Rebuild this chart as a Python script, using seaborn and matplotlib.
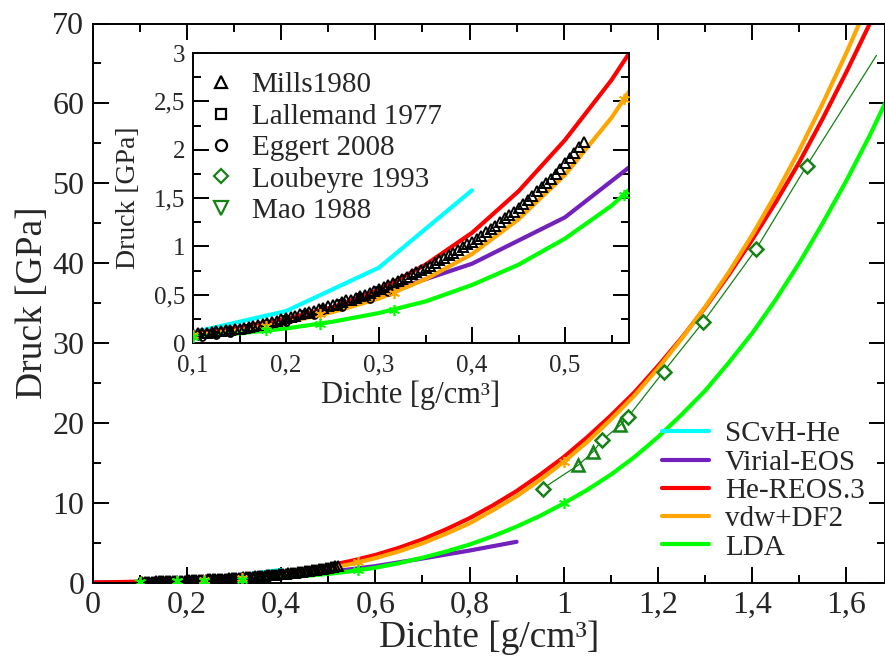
import matplotlib
matplotlib.use("Agg")
import matplotlib.pyplot as plt
import seaborn as sns
import numpy as np
from matplotlib.ticker import MultipleLocator, FuncFormatter
from matplotlib.lines import Line2D

# ---------------- data (density g/cm3, pressure GPa) ----------------
scvh_rho = [0.1, 0.2, 0.3, 0.4]
scvh_p = [0.11, 0.33, 0.78, 1.58]

virial_rho = [0.0, 0.1, 0.2, 0.3, 0.4, 0.5, 0.6, 0.7, 0.8, 0.9]
virial_p = [0.0, 0.08, 0.24, 0.50, 0.82, 1.30, 2.05, 3.0, 4.0, 5.1]

reos_rho = [0.0, 0.1, 0.15, 0.2, 0.25, 0.3, 0.35, 0.4, 0.45, 0.5, 0.55, 0.6, 0.65, 0.7,
            0.75, 0.8, 0.85, 0.9, 0.95, 1.0, 1.05, 1.1, 1.15, 1.2, 1.25, 1.3, 1.35, 1.4,
            1.45, 1.5, 1.55, 1.6, 1.65, 1.7]
reos_p = [0.0, 0.10, 0.16, 0.25, 0.37, 0.55, 0.81, 1.14, 1.57, 2.10, 2.72, 3.45, 4.34, 5.4,
          6.65, 8.05, 9.67, 11.45, 13.5, 15.7, 18.2, 20.9, 23.8, 27.1, 30.6, 34.4, 38.5, 42.9,
          47.6, 52.6, 58.1, 63.9, 70.0, 76.5]

vdw_rho = [0.1, 0.15, 0.2, 0.25, 0.3, 0.35, 0.4, 0.45, 0.5, 0.55, 0.6, 0.65, 0.7, 0.75,
           0.8, 0.85, 0.9, 0.95, 1.0, 1.05, 1.1, 1.15, 1.2, 1.25, 1.3, 1.35, 1.4, 1.45,
           1.5, 1.55, 1.6, 1.65, 1.7]
vdw_p = [0.08, 0.13, 0.21, 0.32, 0.46, 0.66, 0.92, 1.28, 1.74, 2.33, 3.05, 3.89, 4.9, 6.1,
         7.4, 9.06, 10.8, 12.85, 15.1, 17.6, 20.4, 23.4, 26.8, 30.5, 34.5, 38.8, 43.5, 48.6,
         54.1, 60.0, 66.3, 73.0, 80.0]

lda_rho = [0.1, 0.15, 0.2, 0.25, 0.3, 0.35, 0.4, 0.45, 0.5, 0.55, 0.6, 0.65, 0.7, 0.75,
           0.8, 0.85, 0.9, 0.95, 1.0, 1.05, 1.1, 1.15, 1.2, 1.25, 1.3, 1.35, 1.4, 1.45,
           1.5, 1.55, 1.6, 1.65, 1.7]
lda_p = [0.065, 0.10, 0.15, 0.22, 0.31, 0.43, 0.60, 0.81, 1.08, 1.42, 1.85, 2.42, 3.1, 3.87,
         4.75, 5.8, 7.0, 8.35, 9.9, 11.6, 13.5, 15.7, 18.2, 21.0, 24.0, 27.5, 31.2, 35.4,
         40.0, 45.0, 50.3, 56.0, 62.2]

dft_rho = [0.1, 0.178, 0.237, 0.316, 0.563, 1.0]
vdw_pts = [0.08, 0.18, 0.30, 0.52, 2.52, 15.1]
lda_pts = [0.065, 0.13, 0.20, 0.34, 1.53, 9.9]

mills_rho = [0.100, 0.105, 0.110, 0.115, 0.120, 0.125, 0.130, 0.135, 0.140, 0.145,
             0.150, 0.155, 0.160, 0.165, 0.170, 0.175, 0.180, 0.185, 0.190, 0.195,
             0.200, 0.205, 0.210, 0.215, 0.220, 0.225, 0.230, 0.235, 0.240, 0.245,
             0.250, 0.255, 0.260, 0.265, 0.270, 0.275, 0.280, 0.285, 0.290, 0.295,
             0.300, 0.305, 0.310, 0.315, 0.320, 0.325, 0.330, 0.335, 0.340, 0.345,
             0.350, 0.355, 0.360, 0.365, 0.370, 0.375, 0.380, 0.385, 0.390, 0.395,
             0.400, 0.405, 0.410, 0.415, 0.420, 0.425, 0.430, 0.435, 0.440, 0.445,
             0.450, 0.455, 0.460, 0.465, 0.470, 0.475, 0.480, 0.485, 0.490, 0.495,
             0.500, 0.505, 0.510, 0.515, 0.520]
mills_p = [0.09, 0.10, 0.10, 0.10, 0.11, 0.12, 0.12, 0.13, 0.13, 0.14,
           0.15, 0.16, 0.17, 0.18, 0.19, 0.20, 0.21, 0.22, 0.23, 0.25,
           0.26, 0.27, 0.28, 0.30, 0.31, 0.32, 0.33, 0.35, 0.36, 0.38,
           0.39, 0.40, 0.42, 0.44, 0.45, 0.47, 0.49, 0.50, 0.52, 0.54,
           0.56, 0.58, 0.60, 0.62, 0.64, 0.66, 0.68, 0.71, 0.73, 0.76,
           0.78, 0.80, 0.83, 0.86, 0.88, 0.91, 0.93, 0.96, 0.99, 1.02,
           1.05, 1.08, 1.11, 1.15, 1.18, 1.21, 1.25, 1.29, 1.32, 1.36,
           1.40, 1.44, 1.48, 1.52, 1.57, 1.61, 1.66, 1.70, 1.75, 1.80,
           1.86, 1.91, 1.97, 2.03, 2.08]

lallemand_rho = [0.105, 0.12, 0.14, 0.16, 0.18, 0.20, 0.22, 0.24, 0.26, 0.28, 0.30]
lallemand_p = [0.07, 0.09, 0.12, 0.16, 0.20, 0.25, 0.30, 0.35, 0.41, 0.48, 0.55]

eggert_rho = [0.11, 0.125, 0.14, 0.16, 0.18, 0.20, 0.23, 0.26, 0.29, 0.31]
eggert_p = [0.06, 0.08, 0.10, 0.14, 0.18, 0.22, 0.29, 0.37, 0.46, 0.53]

loubeyre_rho = [0.955, 1.081, 1.137, 1.212, 1.296, 1.408, 1.516]
loubeyre_p = [11.75, 17.8, 20.75, 26.4, 32.6, 41.7, 52.2]

mao_rho = [1.031, 1.063, 1.120]
mao_p = [14.7, 16.4, 19.7]

fit_rho = [0.955, 1.031, 1.063, 1.081, 1.120, 1.137, 1.212, 1.296, 1.408, 1.516, 1.664]
fit_p = [11.75, 14.7, 16.4, 17.8, 19.7, 20.75, 26.4, 32.6, 41.7, 52.2, 66.0]

# ---------------- style ----------------
C_CYAN = "#00FFFF"
C_PURPLE = "#7221BC"
C_RED = "#FF0000"
C_ORANGE = "#FFA500"
C_GREEN = "#00FF00"
C_DKGREEN = "#148214"

sns.set_theme(style="ticks")
plt.rcParams["font.family"] = ["Liberation Serif", "DejaVu Serif"]
plt.rcParams["axes.edgecolor"] = "black"
plt.rcParams["axes.linewidth"] = 1.4

W, H = 885, 657
fig = plt.figure(figsize=(W / 100, H / 100), dpi=100)

# main axes: x 0 at px 92.7, 471 px per unit; y 0 at px 582.5, 7.99 px per unit
m_left, m_right, m_top, m_bot = 92.7, 885.0, 23.5, 582.5
ax = fig.add_axes([m_left / W, 1 - m_bot / H, (m_right - m_left) / W, (m_bot - m_top) / H])

# inset axes
i_left, i_right, i_top, i_bot = 193.0, 629.0, 53.0, 343.0
ax_in = fig.add_axes([i_left / W, 1 - i_bot / H, (i_right - i_left) / W, (i_bot - i_top) / H])
ax_in.set_facecolor("white")


def draw_line(a, x, y, color, lw, label=None, zorder=2):
    sns.lineplot(x=x, y=y, ax=a, color=color, linewidth=lw, estimator=None,
                 sort=False, label=label, zorder=zorder, legend=False)


def draw_marks(a, x, y, marker, color, ms, mew=1.4, fill="none", zorder=3):
    sns.lineplot(x=x, y=y, ax=a, estimator=None, sort=False, linestyle="none",
                 marker=marker, markersize=ms, markerfacecolor=fill,
                 markeredgecolor=color, markeredgewidth=mew, color=color,
                 zorder=zorder, legend=False)


ASTER = (6, 2, 0)

for a, lw in ((ax, 3.0), (ax_in, 3.0)):
    # experimental data (black)
    draw_marks(a, mills_rho, mills_p, "^", "black", 7, mew=1.4)
    draw_marks(a, lallemand_rho, lallemand_p, "s", "black", 5, mew=1.3)
    draw_marks(a, eggert_rho, eggert_p, "o", "black", 5, mew=1.3)
    a.errorbar(lallemand_rho, lallemand_p, yerr=0.05, fmt="none", ecolor="black",
               elinewidth=1.3, capsize=0, zorder=3)
    # model curves
    draw_line(a, scvh_rho, scvh_p, C_CYAN, lw, "SCvH-He")
    draw_line(a, virial_rho, virial_p, C_PURPLE, lw, "Virial-EOS")
    draw_line(a, reos_rho, reos_p, C_RED, lw, "He-REOS.3")
    draw_line(a, vdw_rho, vdw_p, C_ORANGE, lw, "vdw+DF2")
    draw_line(a, lda_rho, lda_p, C_GREEN, lw, "LDA")
    draw_marks(a, dft_rho, vdw_pts, ASTER, C_ORANGE, 8, mew=1.2)
    draw_marks(a, dft_rho, lda_pts, ASTER, C_GREEN, 8, mew=1.2)

# high-pressure experiments (main only)
draw_line(ax, fit_rho, fit_p, C_DKGREEN, 0.9)
draw_marks(ax, loubeyre_rho, loubeyre_p, "D", C_DKGREEN, 7, mew=1.8, fill="white", zorder=4)
draw_marks(ax, mao_rho, mao_p, "^", C_DKGREEN, 9, mew=1.8, fill="none", zorder=4)

comma = FuncFormatter(lambda v, p: f"{v:g}".replace(".", ","))

# main axes formatting
ax.set_xlim(0, (m_right - m_left) / 471.0)
ax.set_ylim(0, 70)
ax.xaxis.set_major_locator(MultipleLocator(0.2))
ax.xaxis.set_minor_locator(MultipleLocator(0.1))
ax.yaxis.set_major_locator(MultipleLocator(10))
ax.yaxis.set_minor_locator(MultipleLocator(5))
ax.xaxis.set_major_formatter(comma)
ax.yaxis.set_major_formatter(comma)
ax.tick_params(which="both", direction="in", top=True, right=True, width=1.4, color="black")
ax.tick_params(which="major", length=11.5, labelsize=23, pad=6)
ax.tick_params(which="minor", length=5.5)
ax.set_xlabel("Dichte [g/cm³]", fontsize=27)
ax.set_ylabel("Druck [GPa]", fontsize=27)
ax.xaxis.set_label_coords(0.5, -0.068)
ax.yaxis.set_label_coords(-0.054, 0.5)
for s in ax.spines.values():
    s.set_linewidth(1.4)
    s.set_color("black")

# inset formatting
ax_in.set_xlim(0.1, 0.1 + (i_right - i_left) / 930.0)
ax_in.set_ylim(0, 3)
ax_in.xaxis.set_major_locator(MultipleLocator(0.1))
ax_in.xaxis.set_minor_locator(MultipleLocator(0.05))
ax_in.yaxis.set_major_locator(MultipleLocator(0.5))
ax_in.yaxis.set_minor_locator(MultipleLocator(0.25))
ax_in.xaxis.set_major_formatter(comma)
ax_in.yaxis.set_major_formatter(comma)
ax_in.tick_params(which="both", direction="in", top=False, right=True, width=1.4, color="black")
ax_in.tick_params(which="major", length=11.5, labelsize=18)
ax_in.tick_params(axis="y", which="major", pad=5.5)
ax_in.tick_params(axis="x", which="major", pad=8)
ax_in.tick_params(which="minor", length=5.5)
ax_in.set_xlabel("Dichte [g/cm³]", fontsize=22)
ax_in.set_ylabel("Druck [GPa]", fontsize=20)
ax_in.xaxis.set_label_coords(0.5, -0.13)
ax_in.yaxis.set_label_coords(-0.12, 0.5)
for s in ax_in.spines.values():
    s.set_linewidth(1.4)
    s.set_color("black")

# main legend (model curves)
h_main = [Line2D([], [], color=c, lw=3.0) for c in (C_CYAN, C_PURPLE, C_RED, C_ORANGE, C_GREEN)]
l_main = ["SCvH-He", "Virial-EOS", "He-REOS.3", "vdw+DF2", "LDA"]
ax.legend(h_main, l_main, loc="upper left", bbox_to_anchor=(662 / W, 1 - 421 / H),
          bbox_transform=fig.transFigure, frameon=False, fontsize=21,
          handlelength=1.6, handletextpad=0.55, labelspacing=0.065,
          borderpad=0, borderaxespad=0)

# inset legend (experiments)
def proxy(m, c, ms):
    return Line2D([], [], linestyle="none", marker=m, markersize=ms, markerfacecolor="none",
                  markeredgecolor=c, markeredgewidth=1.6)

h_in = [proxy("^", "black", 9), proxy("s", "black", 7.5), proxy("o", "black", 8),
        proxy("D", C_DKGREEN, 7.5), proxy("v", C_DKGREEN, 10)]
l_in = ["Mills1980", "Lallemand 1977", "Eggert 2008", "Loubeyre 1993", "Mao 1988"]
ax_in.legend(h_in, l_in, loc="upper left", bbox_to_anchor=(205 / W, 1 - 72 / H),
             bbox_transform=fig.transFigure, frameon=False, fontsize=21,
             handlelength=1.1, handletextpad=0.5, labelspacing=0.17,
             borderpad=0, borderaxespad=0)

fig.savefig("out.png", dpi=100)
